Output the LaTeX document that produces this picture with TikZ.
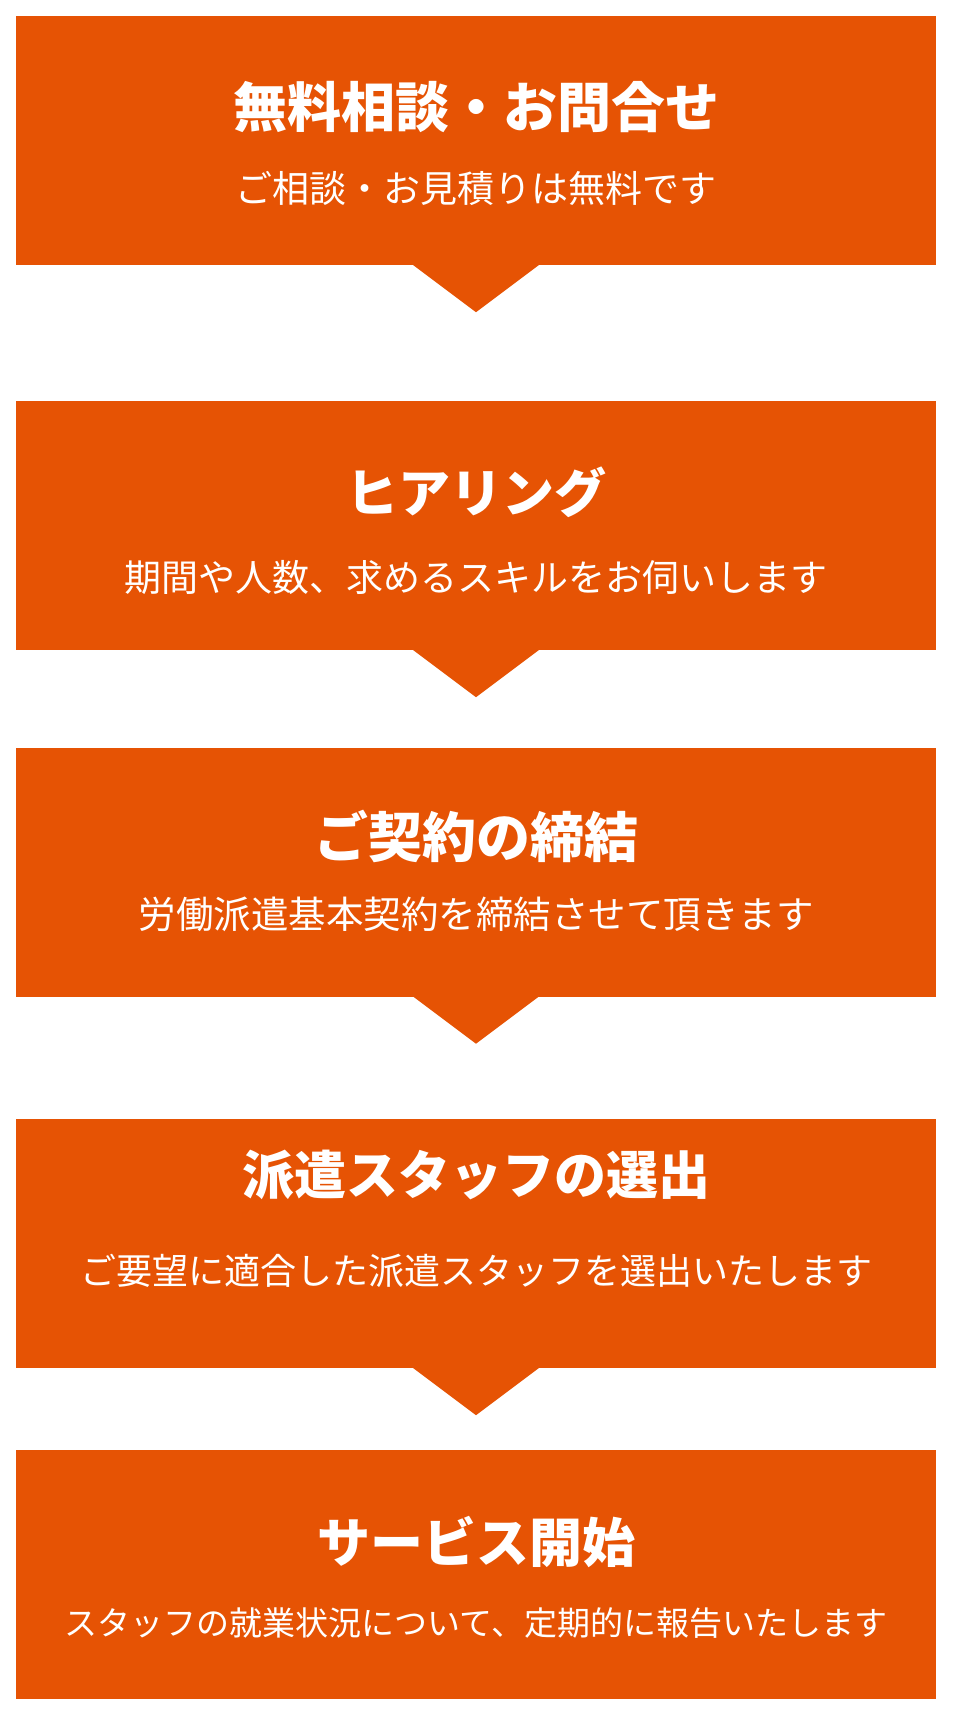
\documentclass[tikz,border=0pt]{standalone}
\usepackage{fontspec}
\setmainfont{Noto Sans CJK JP}
\usepackage{xcolor}
\usetikzlibrary{calc}
\definecolor{flowOrange}{RGB}{230,83,4}

\begin{document}
\begin{tikzpicture}[x=1pt, y=-1pt,
  stepbox/.style={fill=flowOrange, minimum width=920pt, minimum height=249pt, inner sep=0pt},
  steptitle/.style={text=white, font=\fontsize{52}{60}\selectfont\bfseries, inner sep=0pt},
  stepnote/.style={text=white, font=\fontsize{37}{42}\selectfont, inner sep=0pt}]
\useasboundingbox (0,0) rectangle (960,1731);

\node[stepbox] (consult) at (476,140.5) {};
\node[stepbox] (hearing) at (476,525.5) {};
\node[stepbox] (contract) at (476,872) {};
\node[stepbox] (select) at (476,1243.5) {};
\node[stepbox] (start) at (476,1574) {};

\node[steptitle, font=\fontsize{54}{60}\selectfont\bfseries] (consultT) at (476,107) {無料相談・お問合せ};
\node[stepnote] (consultN) at (476,188) {ご相談・お見積りは無料です};
\node[steptitle] (hearingT) at (476,492) {ヒアリング};
\node[stepnote] (hearingN) at (476,577) {期間や人数、求めるスキルをお伺いします};
\node[steptitle, font=\fontsize{54}{60}\selectfont\bfseries] (contractT) at (476,836) {ご契約の締結};
\node[stepnote, font=\fontsize{37.5}{42}\selectfont] (contractN) at (476,914) {労働派遣基本契約を締結させて頂きます};
\node[steptitle] (selectT) at (476,1175) {派遣スタッフの選出};
\node[stepnote, font=\fontsize{36}{42}\selectfont] (selectN) at (476,1271) {ご要望に適合した派遣スタッフを選出いたします};
\node[steptitle, font=\fontsize{53}{60}\selectfont\bfseries] (startT) at (476,1542) {サービス開始};
\node[stepnote, font=\fontsize{33}{40}\selectfont] (startN) at (476,1623) {スタッフの就業状況について、定期的に報告いたします};

% pointers below each step
\foreach \s in {consult, hearing, contract, select}
  \fill[flowOrange] ($(\s.south)+(-64,-1)$) -- ($(\s.south)+(0,47)$) -- ($(\s.south)+(64,-1)$) -- cycle;
\end{tikzpicture}
\end{document}
